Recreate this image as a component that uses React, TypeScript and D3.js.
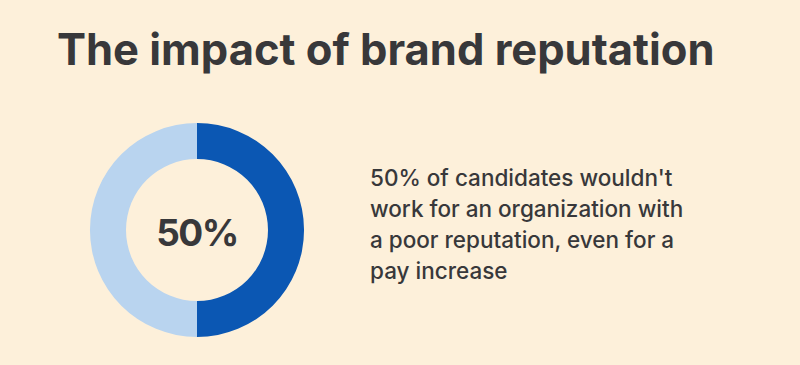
// App.tsx
// donut showing share of candidates, with a title and a caption next to it
import * as d3 from 'd3';
import React, { useRef, useEffect } from 'react';

const title = "The impact of brand reputation";
const categories = ["wouldn't work", "would work"];
const shares = [50, 50];
const sliceColors = ["#0b57b3", "#b9d4ef"];
const centerLabel = "50%";
const captionLines = [
    "50% of candidates wouldn't",
    "work for an organization with",
    "a poor reputation, even for a",
    "pay increase"
];

const width = 800;
const height = 365;

function Donut() {
    const ref = useRef<SVGSVGElement>(null);

    useEffect(() => {
        const svg = d3.select(ref.current);
        svg.selectAll("*").remove();

        svg.append("rect")
            .attr("width", width)
            .attr("height", height)
            .attr("fill", "#fdf0da");

        svg.append("text")
            .attr("x", 57)
            .attr("y", 65)
            .attr("font-family", "Inter, sans-serif")
            .attr("font-weight", 700)
            .attr("font-size", 43.5)
            .attr("fill", "#38383a")
            .text(title);

        //pie starts at 12 o'clock and goes clockwise, first slice dark
        const pie = d3.pie<number>().sort(null).value(d => d);
        const arc = d3.arc<d3.PieArcDatum<number>>()
            .innerRadius(71)
            .outerRadius(107);

        const g = svg.append("g").attr("transform", "translate(197,230)");
        g.selectAll("path")
            .data(pie(shares))
            .enter()
            .append("path")
            .attr("d", arc)
            .attr("fill", (d, i) => sliceColors[i])
            .append("title")
            .text((d, i) => categories[i]);

        g.append("text")
            .attr("text-anchor", "middle")
            .attr("y", 16)
            .attr("font-family", "Inter, sans-serif")
            .attr("font-weight", 700)
            .attr("font-size", 37)
            .attr("letter-spacing", -1.5)
            .attr("fill", "#38383a")
            .text(centerLabel);

        const caption = svg.append("text")
            .attr("font-family", "Inter, sans-serif")
            .attr("font-weight", 500)
            .attr("font-size", 22.5)
            .attr("fill", "#38383a");
        caption.selectAll("tspan")
            .data(captionLines)
            .enter()
            .append("tspan")
            .attr("x", 370)
            .attr("y", (d, i) => 186 + i * 31)
            .text(d => d);
    }, []);

    return <svg ref={ref} width={width} height={height} style={{ display: "block", position: "fixed", left: 0, top: 0 }}></svg>;
}

export default function App() {
    return <Donut />;
}
